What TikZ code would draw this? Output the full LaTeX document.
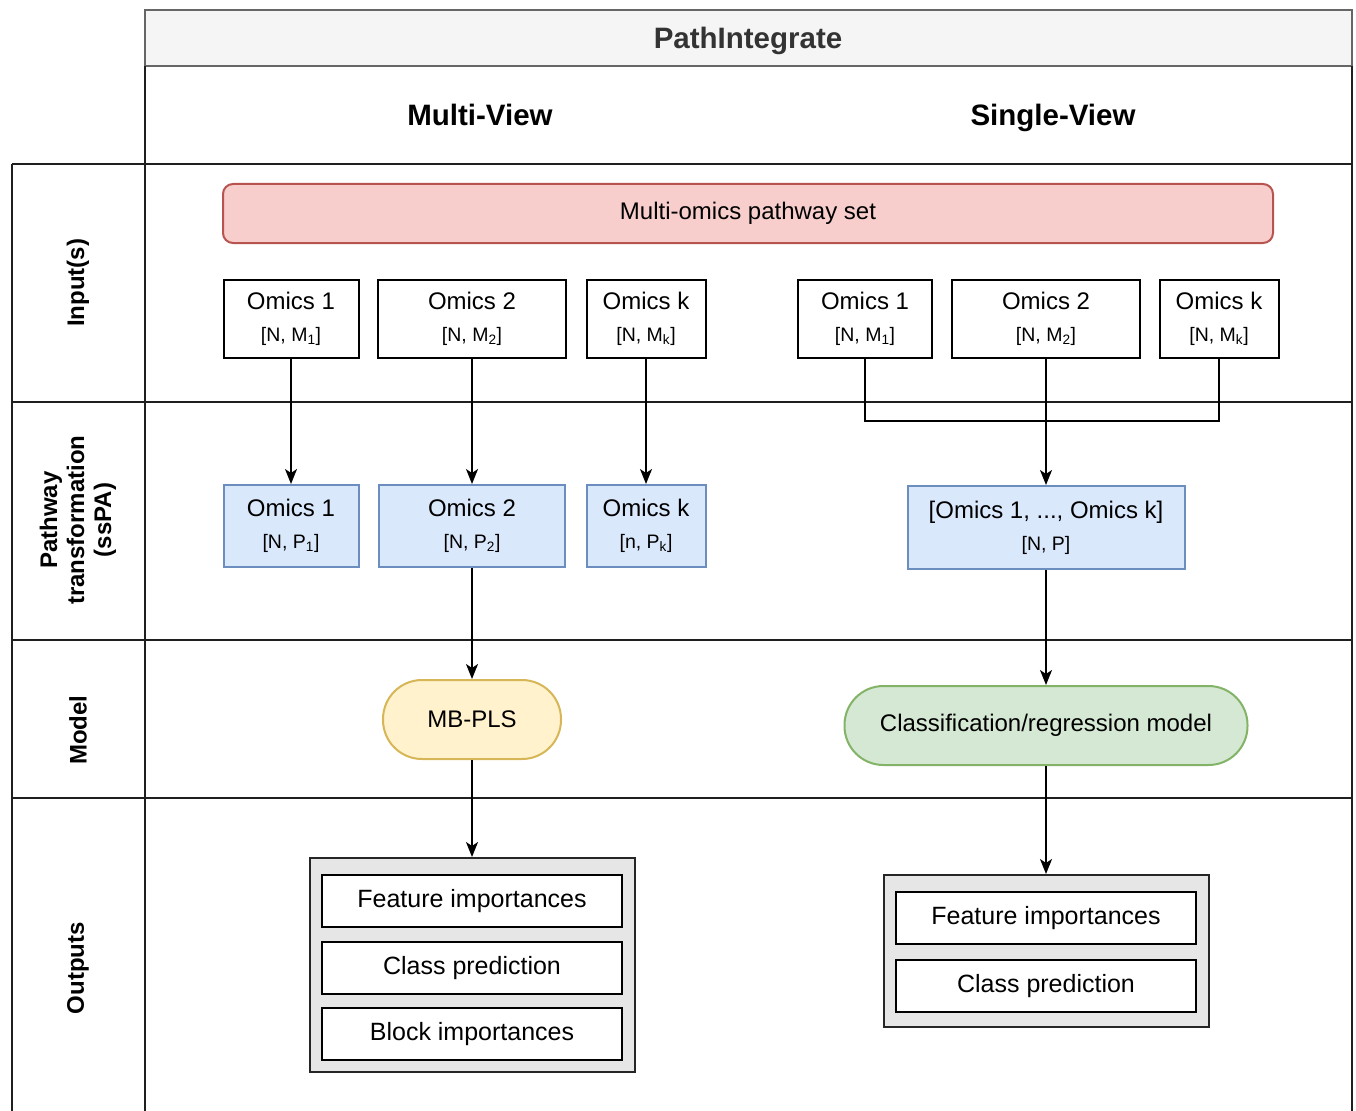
\documentclass[tikz,border=0pt]{standalone}
\usepackage{fontspec}
\setmainfont{Liberation Sans}
\usetikzlibrary{arrows.meta}

\definecolor{setfill}{HTML}{F8CECC}
\definecolor{setline}{HTML}{B85450}
\definecolor{ptfill}{HTML}{DAE8FC}
\definecolor{ptline}{HTML}{6C8EBF}
\definecolor{plsfill}{HTML}{FFF2CC}
\definecolor{plsline}{HTML}{D6B656}
\definecolor{clsfill}{HTML}{D5E8D4}
\definecolor{clsline}{HTML}{82B366}
\definecolor{outfill}{HTML}{E6E6E6}
\definecolor{titlefill}{HTML}{F5F5F5}
\definecolor{titleline}{HTML}{666666}
\definecolor{titletext}{HTML}{333333}

\newcommand{\dimfont}{\fontsize{19.5}{32}\selectfont}

\begin{document}
\begin{tikzpicture}[x=1pt, y=-1pt,
    lane/.style={line width=2pt, draw=black!88},
    box/.style={draw, line width=2pt, fill=white, inner sep=0pt, align=center,
      minimum height=78pt, font=\fontsize{24}{32}\selectfont},
    ptbox/.style={box, draw=ptline, fill=ptfill, minimum height=82pt},
    model/.style={box, rounded corners=39pt, minimum height=79pt},
    outbox/.style={draw=black!85, line width=2pt, fill=outfill, inner sep=0pt},
    item/.style={box, minimum width=300pt, minimum height=52pt, font=\fontsize{25}{30}\selectfont},
    side/.style={rotate=90, align=center, font=\fontsize{24}{27}\selectfont\bfseries},
    head/.style={anchor=base, font=\fontsize{29.5}{34}\selectfont\bfseries},
    arr/.style={-{Stealth[length=15pt, width=12pt, inset=4pt]}, line width=1.8pt}]
    \useasboundingbox (0,0) rectangle (1356,1110);

    % swimlanes
    \draw[line width=2pt, draw=titleline, fill=titlefill] (145,10) rectangle (1352,66);
    \draw[lane] (145,66) -- (145,1115);
    \draw[lane] (1352,66) -- (1352,1115);
    \draw[lane] (12,164) -- (12,1115);
    \foreach \y in {164,402,640,798}
      \draw[lane] (12,\y) -- (1352,\y);

    \node[head, text=titletext] (title) at (748,48.5) {PathIntegrate};
    \node[head] (mv) at (480,125.5) {Multi-View};
    \node[head] (sv) at (1053,125.5) {Single-View};

    \node[side] (l1) at (78,283) {Input(s)};
    \node[side] (l2) at (78,520) {Pathway\\transformation\\(ssPA)};
    \node[side] (l3) at (78,730) {Model};
    \node[side] (l4) at (78,968) {Outputs};

    % inputs
    \node[box, draw=setline, fill=setfill, rounded corners=10pt, minimum width=1050pt,
      minimum height=59pt] (set) at (748,213.5) {Multi-omics pathway set};

    \node[box, minimum width=135pt] (in1) at (291,319) {Omics 1\\{\dimfont [N, M\textsubscript{1}]}};
    \node[box, minimum width=188pt] (in2) at (472,319) {Omics 2\\{\dimfont [N, M\textsubscript{2}]}};
    \node[box, minimum width=119pt] (ink) at (646,319) {Omics k\\{\dimfont [N, M\textsubscript{k}]}};

    \node[box, minimum width=134pt] (sin1) at (865,319) {Omics 1\\{\dimfont [N, M\textsubscript{1}]}};
    \node[box, minimum width=188pt] (sin2) at (1046,319) {Omics 2\\{\dimfont [N, M\textsubscript{2}]}};
    \node[box, minimum width=119pt] (sink) at (1219,319) {Omics k\\{\dimfont [N, M\textsubscript{k}]}};

    % pathway transformation
    \node[ptbox, minimum width=135pt] (pt1) at (291,526) {Omics 1\\{\dimfont [N, P\textsubscript{1}]}};
    \node[ptbox, minimum width=186pt] (pt2) at (472,526) {Omics 2\\{\dimfont [N, P\textsubscript{2}]}};
    \node[ptbox, minimum width=119pt] (ptk) at (646,526) {Omics k\\{\dimfont [n, P\textsubscript{k}]}};
    \node[ptbox, minimum width=277pt, minimum height=83pt] (spt) at (1046,527.5)
      {[Omics 1, ..., Omics k]\\{\dimfont [N, P]}};

    \draw[arr] (in1) -- (pt1);
    \draw[arr] (in2) -- (pt2);
    \draw[arr] (ink) -- (ptk);

    \coordinate (join) at (1046,421);
    \draw[line width=1.8pt] (sin1.south) |- (join) -| (sink.south);
    \draw[arr] (sin2) -- (spt);

    % models
    \node[model, draw=plsline, fill=plsfill, minimum width=178pt] (pls) at (472,719.5) {MB-PLS};
    \node[model, draw=clsline, fill=clsfill, minimum width=403pt] (cls) at (1046,725.5)
      {Classification/regression model};

    \draw[arr] (pt2) -- (pls);
    \draw[arr] (spt) -- (cls);

    % outputs
    \node[outbox, minimum width=325pt, minimum height=214pt] (mvout) at (472,965) {};
    \node[item] (mvfeat) at (472,901) {Feature importances};
    \node[item] (mvclass) at (472,968) {Class prediction};
    \node[item] (mvblock) at (472,1034) {Block importances};

    \node[outbox, minimum width=325pt, minimum height=152pt] (svout) at (1046,951) {};
    \node[item] (svfeat) at (1046,918) {Feature importances};
    \node[item] (svclass) at (1046,986) {Class prediction};

    \draw[arr] (pls) -- (mvout);
    \draw[arr] (cls) -- (svout);
\end{tikzpicture}
\end{document}
